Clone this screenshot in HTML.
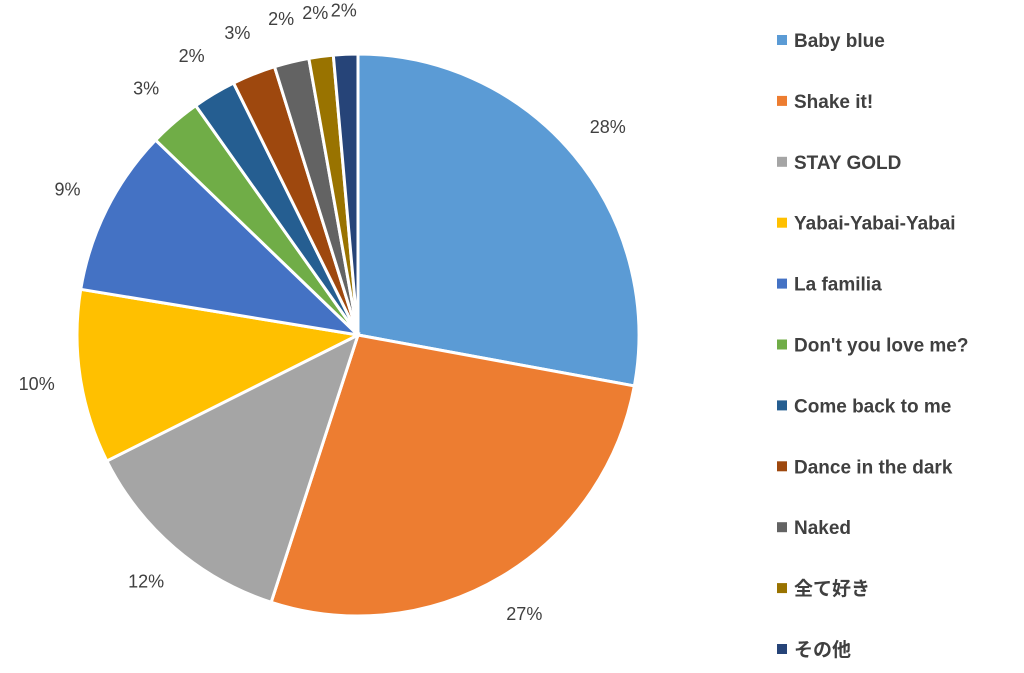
<!DOCTYPE html>
<html><head><meta charset="utf-8"><style>
html,body{margin:0;padding:0;background:#fff;}
svg{display:block;}
text{font-family:"Liberation Sans","Noto Sans CJK JP",sans-serif;fill:#404040;}
</style></head><body>
<svg id="chart" width="1024" height="673"></svg>
<script>
const categories=["Baby blue","Shake it!","STAY GOLD","Yabai-Yabai-Yabai","La familia","Don't you love me?","Come back to me","Dance in the dark","Naked","全て好き","その他"];
const values=[27.9,27.1,12.6,10.0,9.6,3.0,2.5,2.5,2.0,1.4,1.4];
const labels=["28%","27%","12%","10%","9%","3%","2%","3%","2%","2%","2%"];
const colors=["#5B9BD5","#ED7D31","#A5A5A5","#FFC000","#4472C4","#70AD47","#255E91","#9E480E","#636363","#997300","#264478"];
const NS="http://www.w3.org/2000/svg";
const svg=document.getElementById('chart');
const cx=358,cy=335,r=281,lr=325;
const total=values.reduce((a,b)=>a+b,0);
function pt(a,rad){return [cx+rad*Math.sin(a),cy-rad*Math.cos(a)];}
let acc=0;
values.forEach((v,i)=>{
  const a0=acc/total*2*Math.PI; acc+=v; const a1=acc/total*2*Math.PI;
  const p0=pt(a0,r),p1=pt(a1,r);
  const path=document.createElementNS(NS,'path');
  path.setAttribute('d',`M${cx},${cy}L${p0[0]},${p0[1]}A${r},${r} 0 ${a1-a0>Math.PI?1:0} 1 ${p1[0]},${p1[1]}Z`);
  path.setAttribute('fill',colors[i]);path.setAttribute('stroke','#fff');path.setAttribute('stroke-width','3');
  
  
  svg.appendChild(path);
  const am=(a0+a1)/2, lp=pt(am,lr);
  const t=document.createElementNS(NS,'text');
  t.setAttribute('x',lp[0]);t.setAttribute('y',lp[1]+6);t.setAttribute('text-anchor','middle');t.setAttribute('font-size','18');
  t.textContent=labels[i];
  
  
  svg.appendChild(t);
});
categories.forEach((c,i)=>{
  const y=40+i*60.9;
  const g=document.createElementNS(NS,'g');
  
  
  const s=document.createElementNS(NS,'rect');
  s.setAttribute('x',777);s.setAttribute('y',y-5);s.setAttribute('width',10);s.setAttribute('height',10);s.setAttribute('fill',colors[i]);
  const t=document.createElementNS(NS,'text');
  t.setAttribute('x',794);t.setAttribute('y',y+7);t.setAttribute('font-size','19');t.setAttribute('font-weight','bold');
  t.textContent=c;
  g.appendChild(s);g.appendChild(t);svg.appendChild(g);
});
</script>
</body></html>
